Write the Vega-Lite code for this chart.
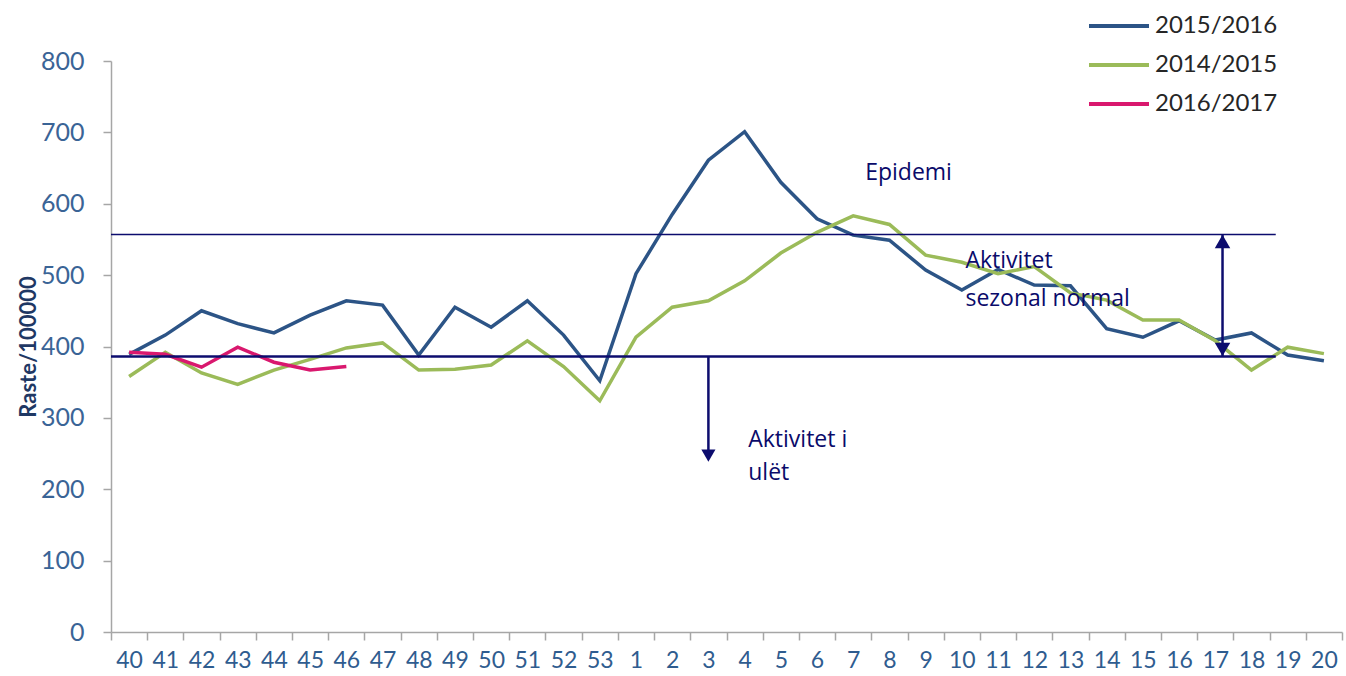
{
  "$schema": "https://vega.github.io/schema/vega-lite/v6.json",
  "width": 1231,
  "height": 571,
  "autosize": {"type": "none"},
  "padding": {"left": 111, "top": 61, "right": 4, "bottom": 44},
  "background": "white",
  "config": {"view": {"stroke": null}, "font": "Lato"},
  "datasets": {
    "series": [
      {"week": "40", "season": "2015/2016", "value": 389},
      {"week": "41", "season": "2015/2016", "value": 416},
      {"week": "42", "season": "2015/2016", "value": 450},
      {"week": "43", "season": "2015/2016", "value": 432},
      {"week": "44", "season": "2015/2016", "value": 419},
      {"week": "45", "season": "2015/2016", "value": 444},
      {"week": "46", "season": "2015/2016", "value": 464},
      {"week": "47", "season": "2015/2016", "value": 458},
      {"week": "48", "season": "2015/2016", "value": 388},
      {"week": "49", "season": "2015/2016", "value": 455},
      {"week": "50", "season": "2015/2016", "value": 427},
      {"week": "51", "season": "2015/2016", "value": 464},
      {"week": "52", "season": "2015/2016", "value": 416},
      {"week": "53", "season": "2015/2016", "value": 352},
      {"week": "1", "season": "2015/2016", "value": 502},
      {"week": "2", "season": "2015/2016", "value": 585},
      {"week": "3", "season": "2015/2016", "value": 661},
      {"week": "4", "season": "2015/2016", "value": 701},
      {"week": "5", "season": "2015/2016", "value": 630},
      {"week": "6", "season": "2015/2016", "value": 579},
      {"week": "7", "season": "2015/2016", "value": 556},
      {"week": "8", "season": "2015/2016", "value": 549},
      {"week": "9", "season": "2015/2016", "value": 507},
      {"week": "10", "season": "2015/2016", "value": 479},
      {"week": "11", "season": "2015/2016", "value": 508},
      {"week": "12", "season": "2015/2016", "value": 486},
      {"week": "13", "season": "2015/2016", "value": 485},
      {"week": "14", "season": "2015/2016", "value": 425},
      {"week": "15", "season": "2015/2016", "value": 413},
      {"week": "16", "season": "2015/2016", "value": 436},
      {"week": "17", "season": "2015/2016", "value": 409},
      {"week": "18", "season": "2015/2016", "value": 419},
      {"week": "19", "season": "2015/2016", "value": 388},
      {"week": "20", "season": "2015/2016", "value": 380},
      {"week": "40", "season": "2014/2015", "value": 358},
      {"week": "41", "season": "2014/2015", "value": 392},
      {"week": "42", "season": "2014/2015", "value": 363},
      {"week": "43", "season": "2014/2015", "value": 347},
      {"week": "44", "season": "2014/2015", "value": 367},
      {"week": "45", "season": "2014/2015", "value": 382},
      {"week": "46", "season": "2014/2015", "value": 398},
      {"week": "47", "season": "2014/2015", "value": 405},
      {"week": "48", "season": "2014/2015", "value": 367},
      {"week": "49", "season": "2014/2015", "value": 368},
      {"week": "50", "season": "2014/2015", "value": 374},
      {"week": "51", "season": "2014/2015", "value": 408},
      {"week": "52", "season": "2014/2015", "value": 372},
      {"week": "53", "season": "2014/2015", "value": 324},
      {"week": "1", "season": "2014/2015", "value": 413},
      {"week": "2", "season": "2014/2015", "value": 455},
      {"week": "3", "season": "2014/2015", "value": 464},
      {"week": "4", "season": "2014/2015", "value": 492},
      {"week": "5", "season": "2014/2015", "value": 531},
      {"week": "6", "season": "2014/2015", "value": 560},
      {"week": "7", "season": "2014/2015", "value": 583},
      {"week": "8", "season": "2014/2015", "value": 571},
      {"week": "9", "season": "2014/2015", "value": 528},
      {"week": "10", "season": "2014/2015", "value": 518},
      {"week": "11", "season": "2014/2015", "value": 502},
      {"week": "12", "season": "2014/2015", "value": 512},
      {"week": "13", "season": "2014/2015", "value": 475},
      {"week": "14", "season": "2014/2015", "value": 465},
      {"week": "15", "season": "2014/2015", "value": 437},
      {"week": "16", "season": "2014/2015", "value": 437},
      {"week": "17", "season": "2014/2015", "value": 408},
      {"week": "18", "season": "2014/2015", "value": 367},
      {"week": "19", "season": "2014/2015", "value": 399},
      {"week": "20", "season": "2014/2015", "value": 390},
      {"week": "40", "season": "2016/2017", "value": 392},
      {"week": "41", "season": "2016/2017", "value": 389},
      {"week": "42", "season": "2016/2017", "value": 371},
      {"week": "43", "season": "2016/2017", "value": 399},
      {"week": "44", "season": "2016/2017", "value": 378},
      {"week": "45", "season": "2016/2017", "value": 367},
      {"week": "46", "season": "2016/2017", "value": 372}
    ],
    "thresholds": [
      {"week": "40", "week_end": "19", "level": 557, "w": 1.6},
      {"week": "40", "week_end": "19", "level": 386, "w": 2.4}
    ],
    "arrows": [
      {"week": "17", "from": 386, "to": 557},
      {"week": "3", "from": 386, "to": 250}
    ],
    "heads": [
      {"week": "17", "y": 547, "shape": "triangle-up"},
      {"week": "17", "y": 396, "shape": "triangle-down"},
      {"week": "3", "y": 247, "shape": "triangle-down"}
    ],
    "notes": [
      {"week": "7", "y": 643, "text": "Epidemi"},
      {"week": "10", "y": 520, "text": "Aktivitet"},
      {"week": "10", "y": 467, "text": "sezonal normal"},
      {"week": "4", "y": 269, "text": "Aktivitet i"},
      {"week": "4", "y": 223, "text": "ulët"}
    ]
  },
  "layer": [
    {
      "data": {"name": "series"},
      "mark": {"type": "line", "strokeWidth": 3.5, "strokeJoin": "miter"},
      "encoding": {
        "x": {
          "field": "week",
          "type": "ordinal",
          "sort": null,
          "scale": {
            "domain": ["40","41","42","43","44","45","46","47","48","49","50","51","52","53","1","2","3","4","5","6","7","8","9","10","11","12","13","14","15","16","17","18","19","20"],
            "paddingInner": 0,
            "paddingOuter": 0
          },
          "axis": {
            "title": null,
            "labelAngle": 0,
            "labelFontSize": 23,
            "labelColor": "#2F5C8F",
            "labelFont": "Lato",
            "labelPadding": 9,
            "domainColor": "#A6A6A6",
            "domainWidth": 1.5,
            "tickColor": "#A6A6A6",
            "tickWidth": 1.5,
            "tickSize": 8,
            "tickBand": "extent",
            "grid": false
          }
        },
        "y": {
          "field": "value",
          "type": "quantitative",
          "scale": {"domain": [0, 800], "nice": false},
          "axis": {
            "title": "Raste/100000",
            "titleFontSize": 22,
            "titleFontWeight": "bold",
            "titleColor": "#1F3864",
            "titleFont": "Lato",
            "titlePadding": 0,
            "values": [0,100,200,300,400,500,600,700,800],
            "labelFontSize": 25,
            "labelColor": "#3A6496",
            "labelFont": "Lato",
            "labelPadding": 19,
            "domainColor": "#A6A6A6",
            "domainWidth": 1.5,
            "tickColor": "#A6A6A6",
            "tickWidth": 1.5,
            "tickSize": 8,
            "grid": false
          }
        },
        "color": {
          "field": "season",
          "type": "nominal",
          "scale": {
            "domain": ["2015/2016", "2014/2015", "2016/2017"],
            "range": ["#2C5486", "#9BBB59", "#D9186E"]
          },
          "legend": {
            "title": null,
            "orient": "none",
            "legendX": 996,
            "legendY": -47,
            "symbolType": "M-3,0H3",
            "symbolSize": 400,
            "symbolStrokeWidth": 4,
            "symbolFillColor": null,
            "labelFontSize": 24,
            "labelFont": "Lato",
            "labelColor": "#262626",
            "labelOffset": 24,
            "rowPadding": 15
          }
        },
        "order": {"field": "season", "sort": "ascending"}
      }
    },
    {
      "data": {"name": "thresholds"},
      "mark": {"type": "rule", "color": "#0C0C6E"},
      "encoding": {
        "x": {"field": "week", "type": "ordinal", "bandPosition": 0},
        "x2": {"field": "week_end", "bandPosition": 0.17},
        "y": {"field": "level", "type": "quantitative"},
        "strokeWidth": {"field": "w", "type": "quantitative", "scale": null, "legend": null}
      }
    },
    {
      "data": {"name": "arrows"},
      "mark": {"type": "rule", "color": "#0C0C6E", "strokeWidth": 2.5},
      "encoding": {
        "x": {"field": "week", "type": "ordinal", "bandPosition": 0.7},
        "y": {"field": "from", "type": "quantitative"},
        "y2": {"field": "to"}
      },
      "transform": [{"filter": "datum.week == '17'"}]
    },
    {
      "data": {"name": "arrows"},
      "mark": {"type": "rule", "color": "#0C0C6E", "strokeWidth": 2.5},
      "encoding": {
        "x": {"field": "week", "type": "ordinal", "bandPosition": 0.5},
        "y": {"field": "from", "type": "quantitative"},
        "y2": {"field": "to"}
      },
      "transform": [{"filter": "datum.week == '3'"}]
    },
    {
      "data": {"name": "heads"},
      "mark": {"type": "point", "filled": true, "color": "#0C0C6E", "size": 240, "opacity": 1},
      "encoding": {
        "x": {"field": "week", "type": "ordinal", "bandPosition": 0.7},
        "y": {"field": "y", "type": "quantitative"},
        "shape": {"field": "shape", "type": "nominal", "scale": null, "legend": null}
      },
      "transform": [{"filter": "datum.week == '17'"}]
    },
    {
      "data": {"name": "heads"},
      "mark": {"type": "point", "filled": true, "color": "#0C0C6E", "size": 200, "opacity": 1},
      "encoding": {
        "x": {"field": "week", "type": "ordinal", "bandPosition": 0.5},
        "y": {"field": "y", "type": "quantitative"},
        "shape": {"field": "shape", "type": "nominal", "scale": null, "legend": null}
      },
      "transform": [{"filter": "datum.week == '3'"}]
    },
    {
      "data": {"name": "notes"},
      "mark": {"type": "text", "align": "left", "baseline": "middle", "fontSize": 23, "font": "Open Sans", "color": "#0A0A6A"},
      "encoding": {
        "x": {"field": "week", "type": "ordinal", "bandPosition": 0.6},
        "y": {"field": "y", "type": "quantitative"},
        "text": {"field": "text", "type": "nominal"}
      },
      "transform": [{"filter": "datum.week != '7'"}]
    },
    {
      "data": {"name": "notes"},
      "mark": {"type": "text", "align": "left", "baseline": "middle", "fontSize": 23, "font": "Open Sans", "color": "#0A0A6A"},
      "encoding": {
        "x": {"field": "week", "type": "ordinal", "bandPosition": 0.83},
        "y": {"field": "y", "type": "quantitative"},
        "text": {"field": "text", "type": "nominal"}
      },
      "transform": [{"filter": "datum.week == '7'"}]
    }
  ]
}
